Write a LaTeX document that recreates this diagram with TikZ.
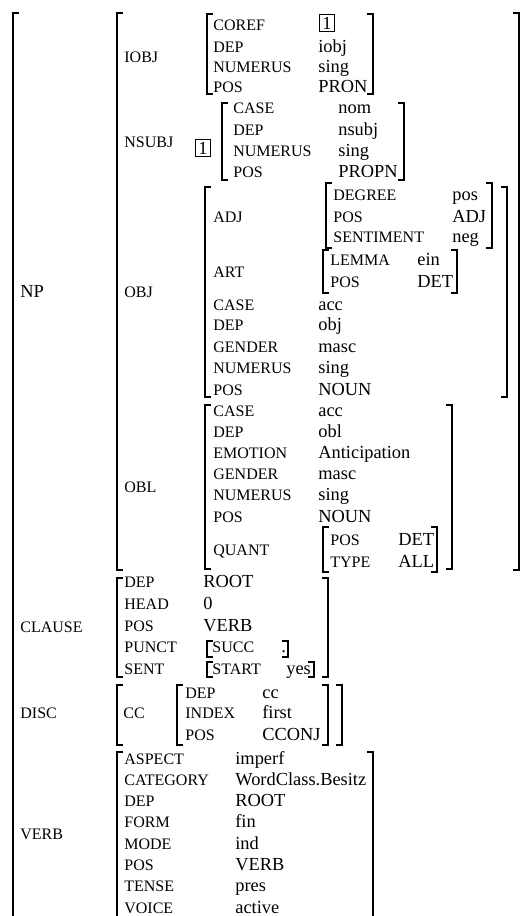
\documentclass[tikz,border=0pt]{standalone}
\usepackage{fontspec}
\setmainfont{Liberation Serif}
\tikzset{
  brk/.style={line width=0.65pt},
  attr/.style={anchor=base west, inner sep=0pt, font=\fontsize{8.7}{10}\selectfont},
  val/.style={anchor=base west, inner sep=0pt, font=\fontsize{10}{12}\selectfont},
  tag/.style={draw, line width=0.45pt, inner sep=0.8pt, minimum width=8.4pt, minimum height=9pt, font=\fontsize{10}{12}\selectfont}
}
% a pair of square brackets: left x, right x, top y, bottom y
\newcommand{\brackets}[4]{%
  \draw[brk] ({#1+6},#3) -- (#1,#3) -- (#1,#4) -- ({#1+6},#4);
  \draw[brk] ({#2-6},#3) -- (#2,#3) -- (#2,#4) -- ({#2-6},#4);}
\begin{document}
\begin{tikzpicture}[x=0.5435pt, y=-0.5435pt]
  \useasboundingbox (0,0) rectangle (524,916);
  % Outer matrix, open at the bottom
  \draw[brk] (19,13) -- (13,13) -- (13,930);
  % NP
  \node[val] (np) at (20,297) {NP};
  \brackets{117}{519}{13}{570}
  % IOBJ
  \node[attr] (iobj) at (124,62) {IOBJ};
  \brackets{207}{373}{14}{94}
  \node[attr] (iobj-coref) at (213,30) {COREF};
  \node[tag] (iobj-tag) at (327,23) {1};
  \foreach \a/\v/\y in {DEP/iobj/52, NUMERUS/sing/72, POS/PRON/92}
    {\node[attr] (iobj-a\y) at (213,\y) {\a}; \node[val] (iobj-v\y) at (318,\y) {\v};}
  % NSUBJ
  \node[attr] (nsubj) at (124,147) {NSUBJ};
  \node[tag] (nsubj-tag) at (203,148) {1};
  \brackets{222}{404}{103}{180}
  \foreach \a/\v/\y in {CASE/nom/113, DEP/nsubj/135, NUMERUS/sing/156, POS/PROPN/177}
    {\node[attr] (nsubj-a\y) at (233,\y) {\a}; \node[val] (nsubj-v\y) at (338,\y) {\v};}
  % OBJ
  \node[attr] (obj) at (124,297) {OBJ};
  \brackets{205}{507}{187}{397}
  \node[attr] (obj-adj) at (213,222) {ADJ};
  \brackets{326}{492}{183}{248}
  \foreach \a/\v/\y in {DEGREE/pos/200, POS/ADJ/222, SENTIMENT/neg/242}
    {\node[attr] (adj-a\y) at (333,\y) {\a}; \node[val] (adj-v\y) at (452,\y) {\v};}
  \node[attr] (obj-art) at (213,277) {ART};
  \brackets{323}{457}{250}{293}
  \foreach \a/\v/\y in {LEMMA/ein/265, POS/DET/287}
    {\node[attr] (art-a\y) at (330,\y) {\a}; \node[val] (art-v\y) at (417,\y) {\v};}
  \foreach \a/\v/\y in {CASE/acc/310, DEP/obj/330, GENDER/masc/352, NUMERUS/sing/373, POS/NOUN/395}
    {\node[attr] (obj-a\y) at (213,\y) {\a}; \node[val] (obj-v\y) at (318,\y) {\v};}
  % OBL
  \node[attr] (obl) at (124,492) {OBL};
  \brackets{205}{452}{405}{569}
  \foreach \a/\v/\y in {CASE/acc/416, DEP/obl/437, EMOTION/Anticipation/458, GENDER/masc/479, NUMERUS/sing/500, POS/NOUN/522}
    {\node[attr] (obl-a\y) at (213,\y) {\a}; \node[val] (obl-v\y) at (318,\y) {\v};}
  \node[attr] (obl-quant) at (213,555) {QUANT};
  \brackets{323}{437}{527}{572}
  \foreach \a/\v/\y in {POS/DET/545, TYPE/ALL/567}
    {\node[attr] (quant-a\y) at (330,\y) {\a}; \node[val] (quant-v\y) at (398,\y) {\v};}
  % CLAUSE
  \node[attr] (clause) at (20,632) {CLAUSE};
  \brackets{117}{328}{578}{677}
  \foreach \a/\v/\y in {DEP/ROOT/587, HEAD/0/609, POS/VERB/631}
    {\node[attr] (clause-a\y) at (124,\y) {\a}; \node[val] (clause-v\y) at (203,\y) {\v};}
  \node[attr] (clause-punct) at (124,652) {PUNCT};
  \brackets{207}{288}{641}{657}
  \node[attr] (punct-succ) at (212,652) {SUCC};
  \node[val] (punct-dot) at (281,652) {.};
  \node[attr] (clause-sent) at (124,674) {SENT};
  \brackets{207}{314}{662}{677}
  \node[attr] (sent-start) at (212,674) {START};
  \node[val] (sent-yes) at (286,674) {yes};
  % DISC
  \node[attr] (disc) at (20,718) {DISC};
  \brackets{117}{342}{685}{745}
  \node[attr] (disc-cc) at (123,718) {CC};
  \brackets{177}{328}{685}{745}
  \foreach \a/\v/\y in {DEP/cc/698, INDEX/first/718, POS/CCONJ/740}
    {\node[attr] (cc-a\y) at (185,\y) {\a}; \node[val] (cc-v\y) at (262,\y) {\v};}
  % VERB, open at the bottom
  \node[attr] (verb) at (20,839) {VERB};
  \draw[brk] (123,752) -- (117,752) -- (117,930);
  \draw[brk] (367,752) -- (373,752) -- (373,930);
  \foreach \a/\v/\y in {ASPECT/imperf/764, CATEGORY/WordClass.Besitz/785, DEP/ROOT/806, FORM/fin/827, MODE/ind/849, POS/VERB/870, TENSE/pres/891, VOICE/active/913}
    {\node[attr] (verb-a\y) at (124,\y) {\a}; \node[val] (verb-v\y) at (235,\y) {\v};}
\end{tikzpicture}
\end{document}
